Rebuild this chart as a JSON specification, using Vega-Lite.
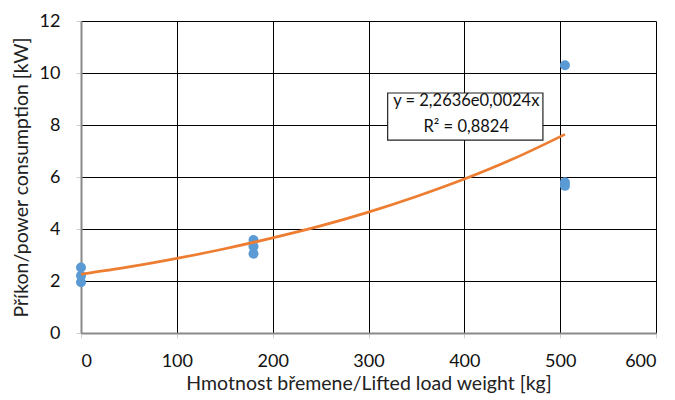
{
  "$schema": "https://vega.github.io/schema/vega-lite/v6.json",
  "width": 575,
  "height": 312,
  "autosize": "none",
  "padding": {"left": 81, "top": 21, "right": 19, "bottom": 67},
  "background": "white",
  "config": {
    "view": {"stroke": null},
    "font": "Lato",
    "axis": {
      "labelFont": "Lato",
      "titleFont": "Lato",
      "labelFontSize": 18,
      "titleFontSize": 19.5,
      "titleFontWeight": "normal",
      "labelColor": "#111111",
      "titleColor": "#222222",
      "gridColor": "#000000",
      "gridOpacity": 1,
      "gridWidth": 1,
      "domainColor": "#8a8a8a",
      "domainWidth": 2,
      "tickColor": "#d0d0d0",
      "tickSize": 5
    }
  },
  "datasets": {
    "points": [
      {"weight": 0, "power": 2.52},
      {"weight": 0, "power": 2.2},
      {"weight": 0, "power": 1.95},
      {"weight": 180, "power": 3.58},
      {"weight": 180, "power": 3.33},
      {"weight": 180, "power": 3.05},
      {"weight": 505, "power": 10.3},
      {"weight": 505, "power": 5.8},
      {"weight": 505, "power": 5.66}
    ],
    "trend": [
      {"weight": 0, "power": 2.26},
      {"weight": 50, "power": 2.54},
      {"weight": 100, "power": 2.87},
      {"weight": 150, "power": 3.24},
      {"weight": 200, "power": 3.66},
      {"weight": 250, "power": 4.12},
      {"weight": 300, "power": 4.65},
      {"weight": 350, "power": 5.25},
      {"weight": 400, "power": 5.92},
      {"weight": 450, "power": 6.68},
      {"weight": 505, "power": 7.64}
    ],
    "box": [{"x1": 320, "x2": 482, "y1": 9.23, "y2": 7.42}],
    "labels": [
      {"x": 402, "y": 8.92, "label": "y = 2,2636e0,0024x"},
      {"x": 402, "y": 7.92, "label": "R² = 0,8824"}
    ]
  },
  "layer": [
    {
      "data": {"name": "points"},
      "mark": {"type": "point", "filled": true, "opacity": 0},
      "encoding": {
        "x": {
          "field": "weight", "type": "quantitative",
          "scale": {"domain": [0, 600], "nice": false},
          "axis": {"values": [0, 100, 200, 300, 400, 500, 600], "title": "Hmotnost břemene/Lifted load weight [kg]", "titlePadding": 4, "labelPadding": 14, "grid": true}
        },
        "y": {
          "field": "power", "type": "quantitative",
          "scale": {"domain": [0, 12], "nice": false},
          "axis": {"values": [0, 2, 4, 6, 8, 10, 12], "title": "Příkon/power consumption [kW]", "titlePadding": 8, "labelPadding": 16, "grid": true}
        }
      }
    },
    {
      "data": {"name": "points"},
      "mark": {"type": "point", "filled": true, "color": "#5B9BD5", "opacity": 1, "size": 100},
      "encoding": {
        "x": {"field": "weight", "type": "quantitative"},
        "y": {"field": "power", "type": "quantitative"}
      }
    },
    {
      "data": {"name": "trend"},
      "mark": {"type": "line", "color": "#ED7D31", "strokeWidth": 2.75, "interpolate": "monotone"},
      "encoding": {
        "x": {"field": "weight", "type": "quantitative"},
        "y": {"field": "power", "type": "quantitative"}
      }
    },
    {
      "data": {"name": "box"},
      "mark": {"type": "rect", "fill": "white", "stroke": "#222222", "strokeWidth": 1.2},
      "encoding": {
        "x": {"field": "x1", "type": "quantitative"},
        "x2": {"field": "x2"},
        "y": {"field": "y1", "type": "quantitative"},
        "y2": {"field": "y2"}
      }
    },
    {
      "data": {"name": "labels"},
      "mark": {"type": "text", "font": "Lato", "fontSize": 16.5, "color": "#111111", "align": "center", "baseline": "middle"},
      "encoding": {
        "x": {"field": "x", "type": "quantitative"},
        "y": {"field": "y", "type": "quantitative"},
        "text": {"field": "label"}
      }
    }
  ]
}
